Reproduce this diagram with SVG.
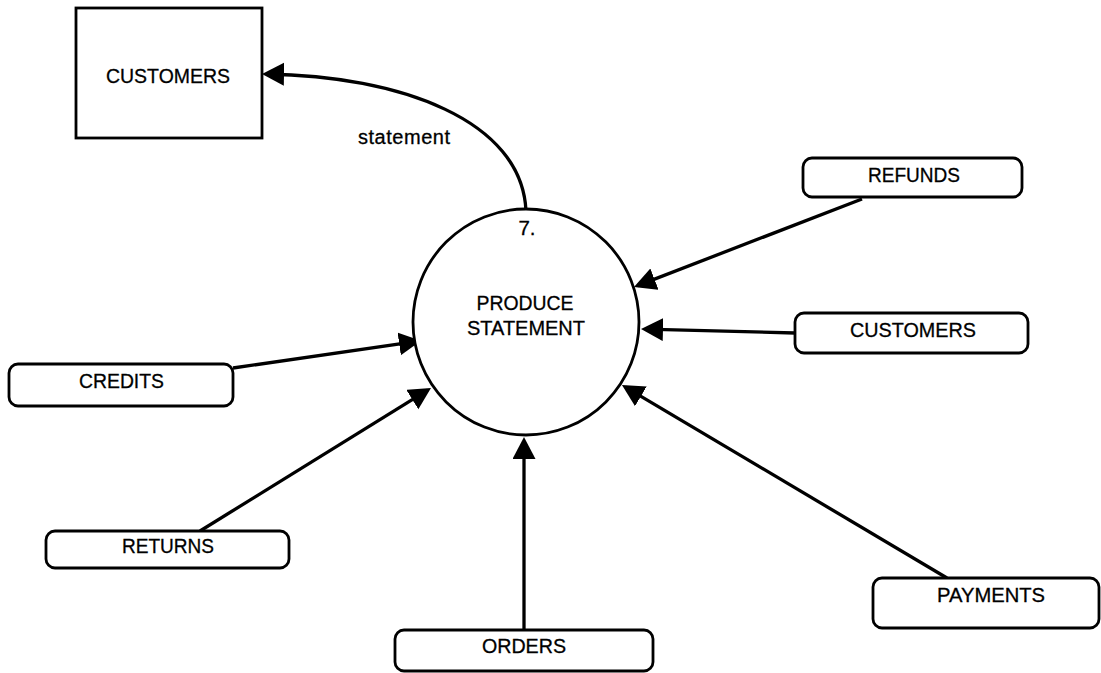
<svg xmlns="http://www.w3.org/2000/svg" width="1101" height="673" viewBox="0 0 1101 673">
<style>
  .box{fill:#fff;stroke:#000;stroke-width:2.8}
  .proc{fill:#fff;stroke:#000;stroke-width:2.8}
  .flow{fill:none;stroke:#000;stroke-width:3.3;marker-end:url(#ah)}
  .t{font-family:"Liberation Sans",Arial,Helvetica,sans-serif;font-size:20.5px;fill:#000;stroke:#000;stroke-width:0.3;text-anchor:middle}
  .lbl{font-family:"Liberation Sans",Arial,Helvetica,sans-serif;font-size:20px;fill:#000;stroke:#000;stroke-width:0.3;text-anchor:middle}
</style>
<defs>
  <marker id="ah" markerUnits="userSpaceOnUse" markerWidth="26" markerHeight="26" refX="18" refY="11.5" orient="auto" viewBox="0 0 26 26">
    <path d="M0,0 L22,11.5 L0,23 Z" fill="#000"/>
  </marker>
</defs>
<rect width="1101" height="673" fill="#fff"/>
<g id="connectors">
  <path class="flow" d="M526,211 C522,120 400,76 266,74"/>
  <line class="flow" x1="862" y1="199" x2="637.7" y2="285.6"/>
  <line class="flow" x1="795" y1="333" x2="645" y2="329.1"/>
  <line class="flow" x1="233" y1="368" x2="417" y2="341.4"/>
  <line class="flow" x1="200" y1="531" x2="427.6" y2="390.1"/>
  <line class="flow" x1="524" y1="630" x2="524" y2="441"/>
  <line class="flow" x1="947" y1="578" x2="625.4" y2="387.1"/>
  <text class="lbl" x="404" y="144" textLength="92" lengthAdjust="spacing">statement</text>
</g>
<g id="ext-customers">
  <rect class="box" x="76" y="8" width="186" height="130"/>
  <text class="t" x="168" y="83" textLength="124" lengthAdjust="spacingAndGlyphs">CUSTOMERS</text>
</g>
<g id="process-7">
  <circle class="proc" cx="526" cy="322" r="113"/>
  <text class="t" x="527" y="235">7.</text>
  <text class="t" x="525" y="310" textLength="97" lengthAdjust="spacingAndGlyphs">PRODUCE</text>
  <text class="t" x="526" y="335" textLength="118" lengthAdjust="spacingAndGlyphs">STATEMENT</text>
</g>
<g id="store-refunds">
  <rect class="box" x="803" y="158" width="219" height="39" rx="9"/>
  <text class="t" x="914" y="182" textLength="92" lengthAdjust="spacingAndGlyphs">REFUNDS</text>
</g>
<g id="store-customers">
  <rect class="box" x="795" y="313" width="233" height="40" rx="9"/>
  <text class="t" x="913" y="337" textLength="126" lengthAdjust="spacingAndGlyphs">CUSTOMERS</text>
</g>
<g id="store-credits">
  <rect class="box" x="9" y="364" width="224" height="42" rx="9"/>
  <text class="t" x="121.5" y="388" textLength="85" lengthAdjust="spacingAndGlyphs">CREDITS</text>
</g>
<g id="store-returns">
  <rect class="box" x="46" y="531" width="243" height="37" rx="9"/>
  <text class="t" x="168" y="553" textLength="92" lengthAdjust="spacingAndGlyphs">RETURNS</text>
</g>
<g id="store-orders">
  <rect class="box" x="395" y="630" width="258" height="41" rx="9"/>
  <text class="t" x="524" y="653" textLength="84" lengthAdjust="spacingAndGlyphs">ORDERS</text>
</g>
<g id="store-payments">
  <rect class="box" x="873" y="578" width="226" height="50" rx="9"/>
  <text class="t" x="991" y="602" textLength="108" lengthAdjust="spacingAndGlyphs">PAYMENTS</text>
</g>
</svg>
